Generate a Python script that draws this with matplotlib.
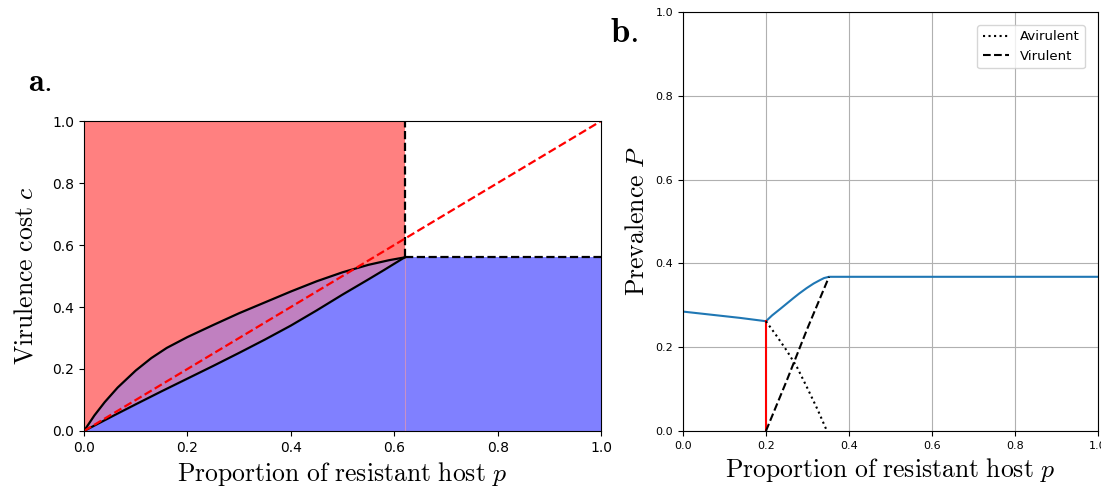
import matplotlib

matplotlib.use("Agg")
import matplotlib.pyplot as plt
import numpy as np

plt.rcParams["mathtext.fontset"] = "cm"

# panel a: region boundaries
p_upper = [0.0, 0.02, 0.04, 0.065, 0.1, 0.13, 0.16, 0.2, 0.25, 0.3, 0.35, 0.4, 0.45, 0.5, 0.55, 0.59, 0.62]
c_upper = [0.0, 0.05, 0.093, 0.14, 0.195, 0.235, 0.268, 0.303, 0.342, 0.38, 0.415, 0.45, 0.483, 0.512, 0.536, 0.551, 0.56]
p_lower = [0.0, 0.03, 0.06, 0.1, 0.15, 0.2, 0.25, 0.3, 0.35, 0.4, 0.45, 0.5, 0.55, 0.58, 0.62]
c_lower = [0.0, 0.026, 0.052, 0.086, 0.128, 0.169, 0.21, 0.252, 0.295, 0.34, 0.389, 0.44, 0.489, 0.519, 0.56]
p_star = 0.62
c_star = 0.56

# panel b: prevalence
p_blue = [0.0, 0.137, 0.2, 0.215, 0.234, 0.25, 0.266, 0.28, 0.298, 0.315, 0.33, 0.34, 0.352, 1.0]
P_blue = [0.285, 0.270, 0.262, 0.276, 0.291, 0.304, 0.317, 0.328, 0.341, 0.352, 0.36, 0.365, 0.368, 0.368]
p_avir = [0.2, 0.225, 0.25, 0.275, 0.3, 0.325, 0.347]
P_avir = [0.262, 0.228, 0.192, 0.152, 0.102, 0.05, 0.0]
p_vir = [0.2, 0.25, 0.3, 0.352]
P_vir = [0.0, 0.12, 0.245, 0.368]
p_crit = 0.2
P_crit = 0.262

fig = plt.figure(figsize=(11.01, 4.92), dpi=100)
ax1 = fig.add_axes([0.0763, 0.124, 0.4696, 0.630])
ax2 = fig.add_axes([0.6203, 0.124, 0.3769, 0.8516])

pu, cu = np.array(p_upper), np.array(c_upper)
pl, cl = np.array(p_lower), np.array(c_lower)
ax1.fill_between(pu, cu, 1.0, color="#ff8080", lw=0)
ax1.fill(np.concatenate([pu, pl[::-1]]), np.concatenate([cu, cl[::-1]]),
         color="#c080c0", lw=0)
ax1.fill_between(pl, 0, cl, color="#8080ff", lw=0)
ax1.fill_between([p_star, 1.0], 0, c_star, color="#8080ff", lw=0)
ax1.plot([p_star, p_star], [0, c_star], color="#c890c8", lw=0.8)
ax1.plot(pu, cu, color="k", lw=1.6)
ax1.plot(pl, cl, color="k", lw=1.6)
ax1.plot([p_star, p_star], [c_star, 1.0], "k--", lw=1.6)
ax1.plot([p_star, 1.0], [c_star, c_star], "k--", lw=1.6)
ax1.plot([0, 1], [0, 1], "r--", lw=1.6)
ax1.set_xlim(0, 1)
ax1.set_ylim(0, 1)
ax1.set_xticks(np.arange(0, 1.01, 0.2))
ax1.set_yticks(np.arange(0, 1.01, 0.2))
ax1.tick_params(labelsize=10)
ax1.set_xlabel(r"$\mathrm{Proportion\ of\ resistant\ host}\ p$", fontsize=18.5)
ax1.set_ylabel(r"$\mathrm{Virulence\ cost}\ c$", fontsize=18.5, labelpad=10)

ax2.plot(p_blue, P_blue, color="tab:blue", lw=1.5)
ax2.plot([p_crit, p_crit], [0, P_crit], color="red", lw=1.5)
ax2.plot(p_avir, P_avir, "k:", lw=1.5, label="Avirulent")
ax2.plot(p_vir, P_vir, "k--", lw=1.5, label="Virulent")
ax2.set_xlim(0, 1)
ax2.set_ylim(0, 1)
ax2.set_xticks(np.arange(0, 1.01, 0.2))
ax2.set_yticks(np.arange(0, 1.01, 0.2))
ax2.tick_params(labelsize=8)
ax2.grid(True)
ax2.legend(loc="upper right", fontsize=9.5, borderaxespad=1.0)
ax2.set_xlabel(r"$\mathrm{Proportion\ of\ resistant\ host}\ p$", fontsize=18.5)
ax2.set_ylabel(r"$\mathrm{Prevalence}\ P$", fontsize=18.5)

fig.text(0.025, 0.815, r"$\mathbf{a.}$", fontsize=23)
fig.text(0.554, 0.915, r"$\mathbf{b.}$", fontsize=25)

fig.savefig("out.png", dpi=100)
